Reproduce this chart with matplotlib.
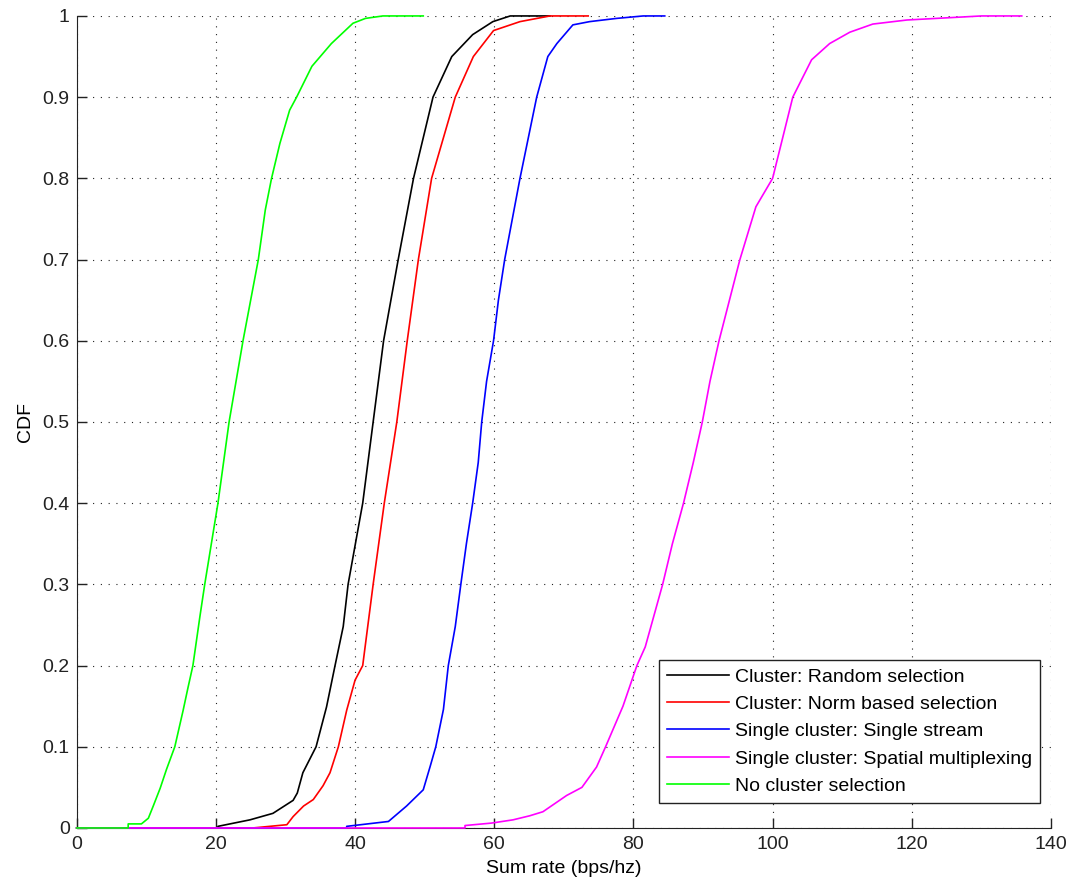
import matplotlib
matplotlib.use("Agg")
import matplotlib.pyplot as plt

plt.rcParams['font.family'] = ['Liberation Sans', 'DejaVu Sans']

# empirical CDF of the sum rate for each scheme (x: bps/hz, y: CDF)
random_x = [0, 20.3, 20.3, 24.9, 28.2, 31.1, 31.7, 32.5, 34.4, 35.9, 37.1, 38.3, 39.0,
            41.1, 42.6, 44.1, 46.2, 48.4, 51.2, 53.9, 56.9, 59.8, 62.3, 68.0]
random_y = [0, 0, 0.002, 0.010, 0.018, 0.034, 0.043, 0.068, 0.100, 0.149, 0.199, 0.248, 0.300,
            0.400, 0.500, 0.600, 0.700, 0.800, 0.900, 0.950, 0.977, 0.993, 1.0, 1.0]

norm_x = [0, 25.3, 30.2, 31.1, 32.6, 34.0, 35.4, 36.4, 37.6, 38.8, 40.0, 41.1, 42.6,
          44.2, 46.0, 47.5, 49.1, 51.0, 54.4, 57.0, 59.9, 63.7, 68.0, 73.5]
norm_y = [0, 0, 0.004, 0.014, 0.027, 0.035, 0.052, 0.068, 0.100, 0.145, 0.182, 0.200, 0.300,
          0.400, 0.500, 0.600, 0.700, 0.800, 0.900, 0.950, 0.982, 0.993, 1.0, 1.0]

single_x = [0, 38.8, 38.8, 44.8, 47.4, 49.8, 50.8, 51.6, 52.7, 53.4, 54.4, 55.2, 56.0, 56.9,
            57.7, 58.2, 58.9, 59.9, 60.6, 61.5, 63.7, 66.1, 67.7, 69.0, 71.3, 73.7, 77.6,
            81.4, 84.5]
single_y = [0, 0, 0.002, 0.008, 0.027, 0.047, 0.076, 0.100, 0.146, 0.200, 0.248, 0.300, 0.350,
            0.400, 0.450, 0.500, 0.550, 0.600, 0.650, 0.700, 0.800, 0.900, 0.950, 0.966, 0.989,
            0.993, 0.997, 1.0, 1.0]

spatial_x = [0, 55.8, 55.8, 59.6, 62.7, 65.1, 67.0, 68.7, 70.4, 72.6, 74.7, 76.0, 78.5, 80.5,
             81.7, 84.2, 85.6, 87.2, 88.6, 89.9, 91.0, 92.3, 93.8, 95.3, 97.6, 100.0, 102.9,
             105.6, 108.2, 111.1, 114.4, 119.3, 130.0, 135.8]
spatial_y = [0, 0, 0.003, 0.006, 0.010, 0.015, 0.020, 0.030, 0.040, 0.050, 0.075, 0.100, 0.150,
             0.200, 0.223, 0.300, 0.350, 0.400, 0.450, 0.500, 0.550, 0.600, 0.650, 0.700, 0.765,
             0.800, 0.900, 0.946, 0.966, 0.980, 0.990, 0.995, 1.0, 1.0]

nosel_x = [0, 7.4, 7.4, 9.3, 10.3, 11.0, 12.0, 12.9, 14.1, 15.3, 16.0, 16.7, 17.7, 18.4, 20.3,
           21.9, 23.9, 26.1, 27.1, 28.0, 29.2, 30.6, 31.6, 33.8, 36.6, 39.7, 41.5, 44.0, 49.8]
nosel_y = [0, 0, 0.005, 0.005, 0.012, 0.027, 0.049, 0.072, 0.100, 0.145, 0.173, 0.200, 0.260,
           0.300, 0.400, 0.500, 0.600, 0.700, 0.761, 0.800, 0.843, 0.884, 0.900, 0.938, 0.966,
           0.991, 0.997, 1.0, 1.0]

labels = ['Cluster: Random selection', 'Cluster: Norm based selection',
          'Single cluster: Single stream', 'Single cluster: Spatial multiplexing',
          'No cluster selection']
colors = ['#000000', '#ff0000', '#0000ff', '#ff00ff', '#00ff00']

xticks = [0, 20, 40, 60, 80, 100, 120, 140]
yticks = [0, 0.1, 0.2, 0.3, 0.4, 0.5, 0.6, 0.7, 0.8, 0.9, 1]
ytick_labels = ['0', '0.1', '0.2', '0.3', '0.4', '0.5', '0.6', '0.7', '0.8', '0.9', '1']

fig = plt.figure(figsize=(10.71, 8.81), dpi=100)
ax = fig.add_axes([0.0716, 0.0602, 0.9097, 0.9217])

curves = [(random_x, random_y), (norm_x, norm_y), (single_x, single_y),
          (spatial_x, spatial_y), (nosel_x, nosel_y)]
for (xs, ys), lab, col in zip(curves, labels, colors):
    # drawn over the axis line so the zero stretches stay visible
    ax.plot(xs, ys, color=col, lw=1.2, label=lab, zorder=3, clip_on=False)

ax.set_xlim(0, 140)
ax.set_ylim(0, 1)
ax.set_xticks(xticks)
ax.set_yticks(yticks)
ax.set_yticklabels(ytick_labels)
ax.tick_params(direction='in', length=7, width=1, labelsize=14, pad=5, colors='#222222')
ax.tick_params(axis='x', pad=6)

ax.spines['top'].set_visible(False)
ax.spines['right'].set_visible(False)
ax.spines['left'].set_color('#222222')
ax.spines['bottom'].set_color('#222222')
ax.grid(True, color='#222222', linestyle=(0, (1, 6)), linewidth=0.8)
ax.set_axisbelow(True)

ax.set_xlabel('Sum rate (bps/hz)', fontsize=14, labelpad=5)
ax.set_ylabel('CDF', fontsize=14, labelpad=6)

leg = ax.legend(loc='lower right', bbox_to_anchor=(0.9887, 0.0312), borderaxespad=0,
                fontsize=14, fancybox=False, framealpha=1, edgecolor='#222222',
                handlelength=3.2, handletextpad=0.3, labelspacing=0.5, borderpad=0.4)
leg.get_frame().set_linewidth(1.0)

fig.savefig('out.png', dpi=100)
